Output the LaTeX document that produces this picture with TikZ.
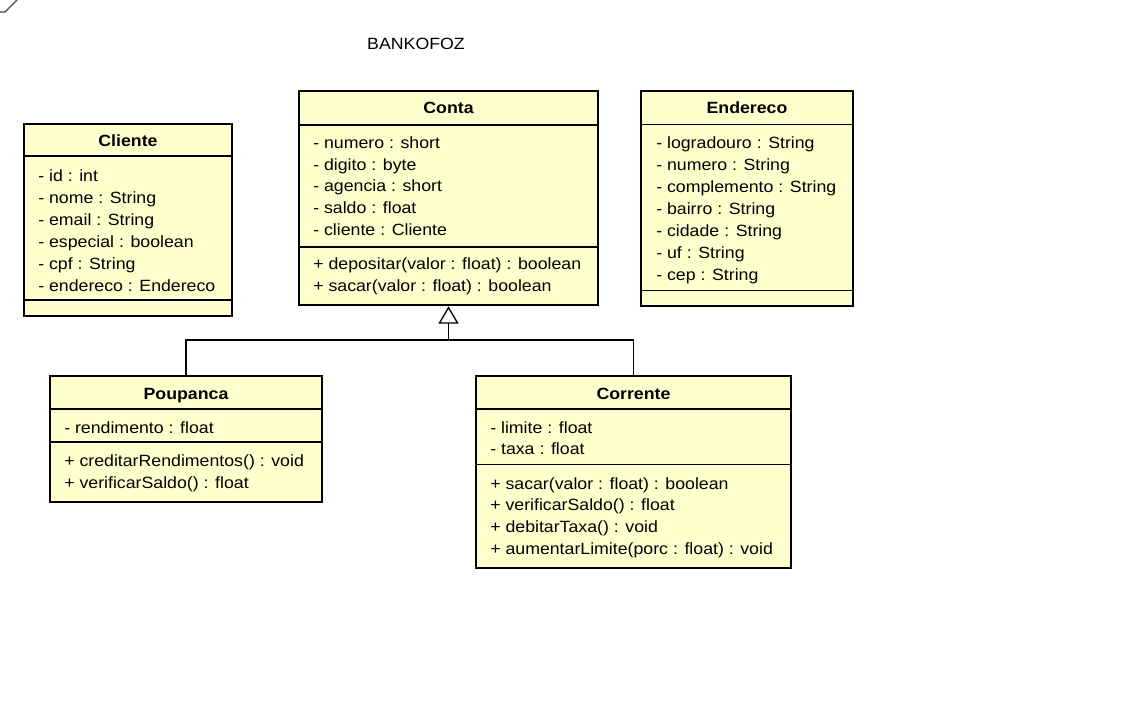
\documentclass[tikz,border=0pt]{standalone}
\usepackage{fontspec}
\setmainfont{Liberation Sans}[FakeStretch=1.09]
\usepackage{tikz}
\usepackage{xcolor}
\usetikzlibrary{fit,arrows.meta}
\definecolor{classfill}{RGB}{255,255,206}
\definecolor{cornergray}{RGB}{70,70,70}

\begin{document}
\begin{tikzpicture}[x=0.75pt, y=-0.75pt,
    classbox/.style={draw, fill=classfill, line width=1.9pt, inner sep=0pt},
    sepline/.style={line width=0.8pt},
    head/.style={anchor=base, inner sep=0pt, font=\fontsize{12.2}{14}\selectfont\bfseries},
    attr/.style={anchor=base west, inner sep=0pt, font=\fontsize{12.2}{14}\selectfont},
    genline/.style={line width=1pt}]
    \useasboundingbox (0,0) rectangle (1136,720);
    \draw [cornergray, line width=1pt] (0,12) -- (5,12) -- (17,0);

    \node [attr, anchor=base, font=\fontsize{12.2}{14}\selectfont] (title) at (416,50) {BANKOFOZ};

    %% Cliente
    \node [classbox, fit={(24,124) (232,316)}] (cliente) {};
    \draw [sepline] (24,156) -- (232,156);
    \draw [sepline] (24,300) -- (232,300);
    \node [head] (cliente-h) at (128,147) {Cliente};
    \foreach \t [count=\i from 0] in {- id : int, - nome : String, - email : String,
        - especial : boolean, - cpf : String, - endereco : Endereco}
      \node [attr] (cliente-a\i) at (38,{182+22*\i}) {\t};

    %% Conta
    \node [classbox, fit={(299,91) (598,305)}] (conta) {};
    \draw [sepline] (299,125) -- (598,125);
    \draw [sepline] (299,247) -- (598,247);
    \node [head] (conta-h) at (448.5,114) {Conta};
    \foreach \t [count=\i from 0] in {- numero : short, - digito : byte, - agencia : short,
        - saldo : float, - cliente : Cliente}
      \node [attr] (conta-a\i) at (313,{148.3+21.85*\i}) {\t};
    \foreach \t [count=\i from 0] in {+ depositar(valor : float) : boolean,
        + sacar(valor : float) : boolean}
      \node [attr] (conta-m\i) at (313,{270+21.8*\i}) {\t};

    %% Endereco
    \node [classbox, fit={(641,91) (853,306)}] (endereco) {};
    \draw [sepline] (641,124.5) -- (853,124.5);
    \draw [sepline] (641,290.5) -- (853,290.5);
    \node [head] (endereco-h) at (747,114) {Endereco};
    \foreach \t [count=\i from 0] in {- logradouro : String, - numero : String,
        - complemento : String, - bairro : String, - cidade : String,
        - uf : String, - cep : String}
      \node [attr] (endereco-a\i) at (656,{149+22*\i}) {\t};

    %% Poupanca
    \node [classbox, fit={(50,376) (322,502)}] (poupanca) {};
    \draw [sepline] (50,409) -- (322,409);
    \draw [sepline] (50,442) -- (322,442);
    \node [head] (poupanca-h) at (186,400) {Poupanca};
    \node [attr] (poupanca-a0) at (64,433) {- rendimento : float};
    \foreach \t [count=\i from 0] in {+ creditarRendimentos() : void,
        + verificarSaldo() : float}
      \node [attr] (poupanca-m\i) at (64,{466+22*\i}) {\t};

    %% Corrente
    \node [classbox, fit={(476,376) (791,568)}] (corrente) {};
    \draw [sepline] (476,409) -- (791,409);
    \draw [sepline] (476,464.5) -- (791,464.5);
    \node [head] (corrente-h) at (633.5,399.5) {Corrente};
    \foreach \t [count=\i from 0] in {- limite : float, - taxa : float}
      \node [attr] (corrente-a\i) at (490,{433+22*\i}) {\t};
    \foreach \t [count=\i from 0] in {+ sacar(valor : float) : boolean,
        + verificarSaldo() : float, + debitarTaxa() : void,
        + aumentarLimite(porc : float) : void}
      \node [attr] (corrente-m\i) at (490,{489+21.7*\i}) {\t};

    %% generalization
    \coordinate (join) at (448.5,340);
    \draw [genline] (poupanca.north) |- (join);
    \draw [genline] (corrente.north) |- (join);
    \draw [genline, -{Triangle[open, length=13pt, width=15pt]}] (join) -- (conta.south);
\end{tikzpicture}
\end{document}
